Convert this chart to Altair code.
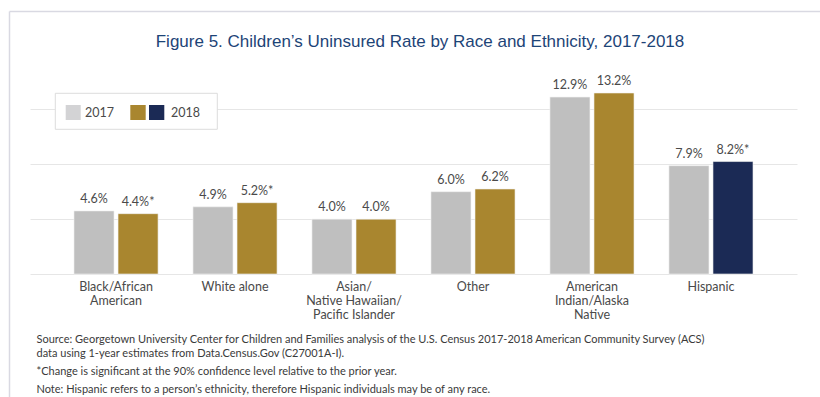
import altair as alt
import pandas as pd

categories = ["Black/African|American", "White alone", "Asian/|Native Hawaiian/|Pacific Islander",
              "Other", "American|Indian/Alaska|Native", "Hispanic"]
years = ["2017", "2018"]
values_2017 = [4.6, 4.9, 4.0, 6.0, 12.9, 7.9]
values_2018 = [4.4, 5.2, 4.0, 6.2, 13.2, 8.2]
labels_2017 = ["4.6%", "4.9%", "4.0%", "6.0%", "12.9%", "7.9%"]
labels_2018 = ["4.4%*", "5.2%*", "4.0%", "6.2%", "13.2%", "8.2%*"]
colors_2018 = ["#a9862f", "#a9862f", "#a9862f", "#a9862f", "#a9862f", "#1b2a55"]
color_2017 = "#bfbfbf"

title_text = "Figure 5. Children\u2019s Uninsured Rate by Race and Ethnicity, 2017-2018"
footnotes = [
    "Source: Georgetown University Center for Children and Families analysis of the U.S. Census 2017-2018 American Community Survey (ACS)",
    "data using 1-year estimates from Data.Census.Gov (C27001A-I).",
    "*Change is significant at the 90% confidence level relative to the prior year.",
    "Note: Hispanic refers to a person\u2019s ethnicity, therefore Hispanic individuals may be of any race.",
]

rows = []
for i, c in enumerate(categories):
    rows.append({"category": c, "year": "2017", "value": values_2017[i], "label": labels_2017[i], "color": color_2017})
    rows.append({"category": c, "year": "2018", "value": values_2018[i], "label": labels_2018[i], "color": colors_2018[i]})
df = pd.DataFrame(rows)

FONT = "Lato"
TEXT_COLOR = "#4a4a4a"

x_enc = alt.X("category:N", sort=categories,
              scale=alt.Scale(paddingInner=0.26, paddingOuter=0.353),
              axis=alt.Axis(title=None, labelExpr="split(datum.label, '|')", labelAngle=0,
                            ticks=False, domain=False, labelPadding=6, labelFontSize=12.5,
                            labelFont=FONT, labelColor=TEXT_COLOR, labelLineHeight=14,
                            labelBaseline="top"))
xo_enc = alt.XOffset("year:N", sort=years, scale=alt.Scale(paddingInner=0.091, paddingOuter=0.045))
y_enc = alt.Y("value:Q", scale=alt.Scale(domain=[0, 14]),
              axis=alt.Axis(title=None, labels=False, ticks=False, domain=False,
                            values=[0, 2, 4, 6, 8, 10, 12, 14], gridColor="#e6e6e6", gridWidth=1))

base = alt.Chart(df)
bars = base.mark_bar(stroke="#f2f2f2", strokeWidth=0.6).encode(
    x=x_enc, xOffset=xo_enc, y=y_enc, color=alt.Color("color:N", scale=None))
vlabels = base.mark_text(baseline="bottom", dy=-5, font=FONT, fontSize=12.5, color=TEXT_COLOR).encode(
    x=alt.X("category:N", sort=categories), xOffset=xo_enc, y="value:Q", text="label:N")

one = pd.DataFrame({"k": [0]})

title = alt.Chart(one).mark_text(font="Liberation Sans", fontSize=17, color="#1d4477",
                                 align="center", baseline="alphabetic").encode(
    x=alt.value(390), y=alt.value(-35), text=alt.value(title_text))

# outer frame
frame_top = alt.Chart(one).mark_rule(color="#d9d9e2", strokeWidth=1.5).encode(
    x=alt.value(-20.5), x2=alt.value(800), y=alt.value(-70.5))
frame_left = alt.Chart(one).mark_rule(color="#d9d9e2", strokeWidth=1.5).encode(
    x=alt.value(-20.5), y=alt.value(-70.5), y2=alt.value(330))

# legend
leg_box = alt.Chart(one).mark_rect(fill="white", stroke="#dcdcdc", strokeWidth=1).encode(
    x=alt.value(25.3), x2=alt.value(187.3), y=alt.value(11.3), y2=alt.value(47.3))
leg_sw1 = alt.Chart(one).mark_rect(fill="#d3d3d5").encode(
    x=alt.value(35.7), x2=alt.value(50.7), y=alt.value(23), y2=alt.value(38))
leg_sw2 = alt.Chart(one).mark_rect(fill=colors_2018[0]).encode(
    x=alt.value(100.3), x2=alt.value(115.7), y=alt.value(23), y2=alt.value(38))
leg_sw3 = alt.Chart(one).mark_rect(fill=colors_2018[-1]).encode(
    x=alt.value(119), x2=alt.value(134.3), y=alt.value(23), y2=alt.value(38))
leg_t1 = alt.Chart(one).mark_text(font=FONT, fontSize=12.5, color=TEXT_COLOR, align="left", baseline="middle").encode(
    x=alt.value(55), y=alt.value(30.5), text=alt.value(years[0]))
leg_t2 = alt.Chart(one).mark_text(font=FONT, fontSize=12.5, color=TEXT_COLOR, align="left", baseline="middle").encode(
    x=alt.value(141), y=alt.value(30.5), text=alt.value(years[1]))

foot_y = [261, 275, 293, 311]
foot_layers = [
    alt.Chart(one).mark_text(font=FONT, fontSize=11, color="#3a3a3a", align="left", baseline="alphabetic").encode(
        x=alt.value(6.5), y=alt.value(yy), text=alt.value(t))
    for t, yy in zip(footnotes, foot_y)
]

chart = alt.layer(frame_top, frame_left, bars, vlabels, title, leg_box, leg_sw1, leg_sw2, leg_sw3,
                  leg_t1, leg_t2, *foot_layers).properties(
    width=767, height=192,
    padding={"left": 30, "top": 82, "right": 23, "bottom": 123},
    autosize=alt.AutoSizeParams(type="none"),
    background="white",
).configure_view(stroke=None)

chart.save("out.html", embed_options={"renderer": "svg", "actions": False})
